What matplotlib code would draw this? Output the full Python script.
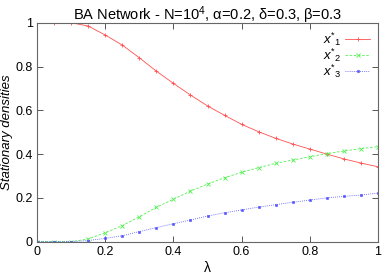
import numpy as np
import matplotlib.pyplot as plt

plt.rcParams['font.family'] = ['Liberation Sans', 'DejaVu Sans']
plt.rcParams['mathtext.fontset'] = 'custom'
plt.rcParams['mathtext.rm'] = 'Liberation Sans'
plt.rcParams['mathtext.it'] = 'Liberation Sans:italic'

lam = [0, 0.05, 0.1, 0.15, 0.2, 0.25, 0.3, 0.35, 0.4, 0.45, 0.5,
       0.55, 0.6, 0.65, 0.7, 0.75, 0.8, 0.85, 0.9, 0.95, 1.0]
x1 = [1.0, 1.0, 1.0, 0.985, 0.944, 0.898, 0.840, 0.779, 0.723, 0.670, 0.620,
      0.577, 0.536, 0.502, 0.472, 0.446, 0.423, 0.400, 0.378, 0.359, 0.342]
x2 = [0.0, 0.0, 0.0, 0.012, 0.041, 0.073, 0.114, 0.157, 0.194, 0.231, 0.263,
      0.292, 0.317, 0.338, 0.358, 0.373, 0.388, 0.402, 0.414, 0.425, 0.434]
x3 = [0.0, 0.0, 0.0, 0.005, 0.015, 0.027, 0.046, 0.064, 0.082, 0.099, 0.117,
      0.132, 0.145, 0.158, 0.169, 0.180, 0.190, 0.200, 0.207, 0.213, 0.222]
ticks = [0, 0.2, 0.4, 0.6, 0.8, 1]
tick_labels = ['0', '0.2', '0.4', '0.6', '0.8', '1']

fig = plt.figure(figsize=(3.92, 2.74), dpi=100)
ax = fig.add_axes([0.0944, 0.118, 0.870, 0.799])

ax.plot(lam, x1, color='#ff5050', lw=0.6, ls='-', marker='+', ms=3, mew=0.6,
        label=r'$x^{*}{}_{1}$')
ax.plot(lam, x2, color='#50f050', lw=0.6, ls=(0, (3, 2)), marker='x', ms=2.5, mew=0.6,
        label=r'$x^{*}{}_{2}$')
ax.plot(lam, x3, color='#5050ff', lw=0.6, ls=(0, (1, 1.5)), marker='s', ms=2, mew=0.4,
        label=r'$x^{*}{}_{3}$')

ax.set_xlim(0, 1)
ax.set_ylim(0, 1)
ax.set_xticks(ticks)
ax.set_xticklabels(tick_labels)
ax.set_yticks(ticks)
ax.set_yticklabels(tick_labels)
ax.tick_params(direction='in', top=True, right=True, length=4, width=0.7,
               labelsize=9, pad=3, color='#555555')
for s in ax.spines.values():
    s.set_color('#666666')
    s.set_linewidth(0.8)

ax.set_title(r'BA Network - N=10$^4$, α=0.2, δ=0.3, β=0.3', fontsize=10.5, pad=2)
ax.set_xlabel('λ', fontsize=10, labelpad=2)
ax.set_ylabel('Stationary densities', fontsize=9.5, style='italic', labelpad=2)

leg = ax.legend(loc='upper right', frameon=False, markerfirst=False, fontsize=9.5,
                handlelength=1.9, labelspacing=-0.1, borderaxespad=0.4,
                handletextpad=0.3, borderpad=0.2)

fig.savefig('out.png', dpi=100)
